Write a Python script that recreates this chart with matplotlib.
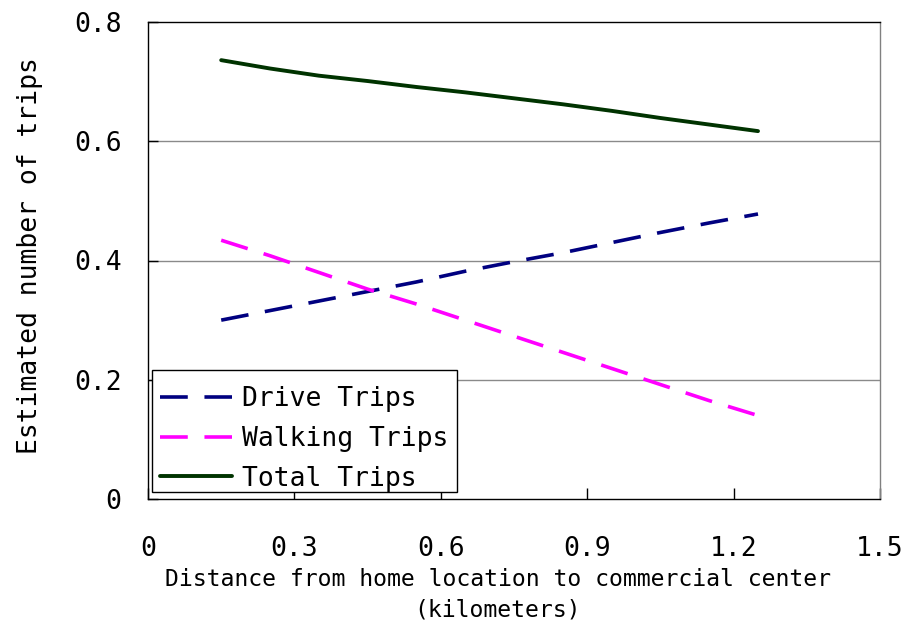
import matplotlib
matplotlib.use("Agg")
import matplotlib.pyplot as plt
from matplotlib.transforms import ScaledTranslation

distance_km = [0.15, 0.25, 0.35, 0.45, 0.55, 0.65, 0.75, 0.85, 0.95, 1.05, 1.15, 1.25]
drive_trips = [0.300, 0.316, 0.332, 0.348, 0.364, 0.382, 0.398, 0.413, 0.430, 0.447, 0.463, 0.478]
walking_trips = [0.434, 0.408, 0.380, 0.352, 0.327, 0.300, 0.273, 0.246, 0.219, 0.192, 0.165, 0.140]
total_trips = [0.736, 0.722, 0.710, 0.701, 0.691, 0.682, 0.672, 0.662, 0.651, 0.639, 0.628, 0.617]

x_ticks = [0, 0.3, 0.6, 0.9, 1.2, 1.5]
x_tick_labels = ["0", "0.3", "0.6", "0.9", "1.2", "1.5"]
y_ticks = [0, 0.2, 0.4, 0.6, 0.8]
y_tick_labels = ["0", "0.2", "0.4", "0.6", "0.8"]

plt.rcParams['font.family'] = ['DejaVu Sans Mono', 'DejaVu Sans']
plt.rcParams['lines.scale_dashes'] = False

fig = plt.figure(figsize=(9.02, 6.28), dpi=100)
ax = fig.add_axes([148/902, 1-499/628, 732/902, 477/628])

ax.set_xlim(0, 1.5)
ax.set_ylim(0, 0.8)

for g in [0.2, 0.4, 0.6]:
    ax.axhline(g, color='#8a8a8a', lw=1.0, zorder=1)

ax.plot(distance_km, drive_trips, color='#000080', lw=2.6, dashes=(20, 12),
        label='Drive Trips', zorder=3)
ax.plot(distance_km, walking_trips, color='#FF00FF', lw=2.6, dashes=(20, 12),
        label='Walking Trips', zorder=3)
ax.plot(distance_km, total_trips, color='#003300', lw=2.8, label='Total Trips',
        zorder=3, solid_capstyle='round')

ax.set_xticks(x_ticks)
ax.set_xticklabels(x_tick_labels, fontsize=19)
ax.set_yticks(y_ticks)
ax.set_yticklabels(y_tick_labels, fontsize=19)
ax.tick_params(axis='x', direction='in', length=8, width=1, pad=27)
ax.tick_params(axis='y', direction='in', length=7, width=1, pad=19)

for s in ['left', 'bottom', 'top']:
    ax.spines[s].set_color('black')
    ax.spines[s].set_linewidth(1.0)
ax.spines['right'].set_color('#808080')
ax.spines['right'].set_linewidth(1.0)

ax.set_xlabel('Distance from home location to commercial center\n(kilometers)',
              fontsize=16.7, linespacing=1.4)
ax.xaxis.set_label_coords(0.478, -0.145)
ax.xaxis.label.set_va('top')
ax.set_ylabel('Estimated number of trips', fontsize=19)
ax.yaxis.set_label_coords(-0.143, 0.51)

leg = ax.legend(loc='lower left', bbox_to_anchor=(4/732, 7/477), fontsize=19,
                frameon=True, fancybox=False, shadow=False, framealpha=1,
                handlelength=2.7, handletextpad=0.4, borderpad=0.32,
                labelspacing=0.52, borderaxespad=0)
leg.get_frame().set_edgecolor('black')
leg.get_frame().set_linewidth(1.0)
leg.set_zorder(5)
shift = ScaledTranslation(0, -8/100, fig.dpi_scale_trans)
for t in leg.get_texts():
    t.set_transform(t.get_transform() + shift)
for h in leg.get_lines():
    h.set_transform(h.get_transform() + shift)

fig.savefig('out.png', dpi=100)
